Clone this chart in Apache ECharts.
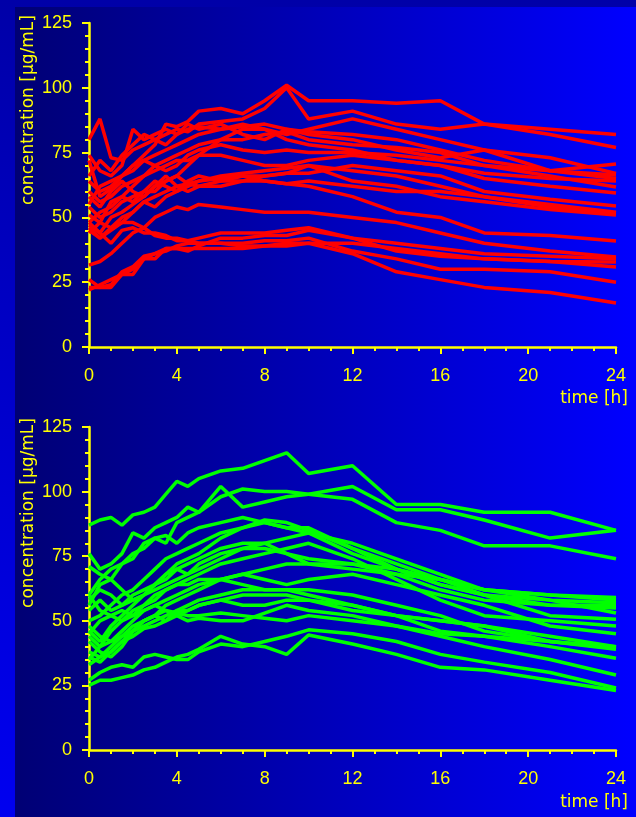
<!DOCTYPE html>
<html>
<head>
<meta charset="utf-8">
<script src="https://cdn.jsdelivr.net/npm/echarts@6/dist/echarts.min.js"></script>
<style>
html,body{margin:0;padding:0;background:#0000c0;}
#chart{width:636px;height:817px;}
</style>
</head>
<body>
<div id="chart"></div>
<script>
// sampling times [h]
const times = [0,0.5,1,1.5,2,2.5,3,3.5,4,4.5,5,6,7,8,9,10,12,14,16,18,21,24];
const xTicks = [0,4,8,12,16,20,24];
const yTicks = [0,25,50,75,100,125];

// upper panel: concentration [µg/mL] per subject (red)
const redCurves = [
  [72,58,61,66,70,74,78,86,85,87,91,92,90,95,101,95,95,94,95,86,84,82],
  [80,88,73,72,76,78,80,82,84,83,86,87,88,92,100,88,91,86,84,86,82,77],
  [74,68,66,70,84,80,82,84,82,84,85,84,86,84,82,84,88,84,80,76,68,70.6],
  [66,72,68,74,78,82,80,78,82,86,84,86,82,80,84,82,80,76,73,76,73,67],
  [64,60,62,66,68,72,74,76,78,80,82,84,85,86,84,83,82,80,76,72,68,66.4],
  [60,56,58,62,64,66,70,72,74,76,78,80,80,82,83,80,78,77,75,70,68,65],
  [58,54,60,64,60,58,62,64,66,70,74,80,84,84,80,78,76,72,70,67,65,64],
  [55,62,64,66,70,72,70,68,70,74,76,78,76,75,76,75,75,74,72,70,66,61.7],
  [51,48,56,58,62,66,68,70,72,72,74,74,72,70,70,72,74,72,70,65,62,59.4],
  [47,44,50,52,55,58,62,66,62,60,62,64,66,66,67,67,70,68,66,60,57,54.4],
  [54,50,52,56,58,60,64,62,60,64,66,64,64,64,63,64,62,60,60,58,55,52],
  [48,52,54,58,56,60,60,64,66,63,62,62,64,66,67,70,68,66,62,58,54,51.7],
  [45,42,46,50,52,56,54,58,60,62,64,66,67,68,69,70,64,62,58,56,53,50.9],
  [46,42,45,48,52,56,58,60,62,63,64,65,66,64,63,62,58,52,50,44,43,40.9],
  [44,48,46,48,48,46,50,52,54,53,55,54,53,52,52,52,50,48,44,40,37,34.7],
  [31.6,33,36,40,44,46,43,42,42,41,42,44,44,44,45,46,42,40,38,36,35,34],
  [48,44,40,45,46,44,44,43,41,41,40,40,39,39,40,40,40,38,36,34,33,32.8],
  [26,23,23,28,30,34,34,38,38,37,39,42,42,43,43,45,42,37,35,34,33,30.9],
  [22,24,26,28,28,34,36,38,38,38,38,38,38,39,39,40,36,29,26,23,21,17],
  [23,23,24,29,31,35,36,37,39,40,40,40,40,41,41,42,37,34,30,30,29,25]
];

// lower panel: concentration [µg/mL] per subject (green)
const greenCurves = [
  [87,89,90,87,91,92,94,99,104,102,105,108,109,112,115,107,110,95,95,92,92,85],
  [60,66,70,72,74,80,82,80,88,90,92,102,94,96,98,99,102,93,93,89,82,85],
  [76,70,72,76,84,82,86,88,90,94,92,98,101,100,100,99,97,88,85,79,79,74],
  [56,64,66,72,76,78,82,83,80,84,86,88,90,88,86,84,80,74,68,62,60,59],
  [50,52,56,60,62,66,70,74,76,78,80,84,86,89,88,85,78,72,66,62,60,58],
  [46,42,48,52,56,60,64,68,72,74,76,82,86,88,86,86,78,70,64,60,58,57],
  [54,58,54,56,60,62,64,66,70,72,74,78,80,80,82,84,76,70,64,60,56,55],
  [71,68,66,62,58,60,62,64,66,68,70,74,78,78,76,72,70,68,66,62,58,53],
  [44,40,46,50,54,56,58,62,64,66,68,72,74,76,78,80,74,66,58,52,50,48],
  [42,38,36,40,46,50,52,56,58,60,62,66,68,70,72,72,72,70,66,60,52,50.6],
  [48,44,42,46,50,54,56,58,60,62,64,66,68,66,64,66,68,64,60,56,48,45],
  [38,36,40,44,48,50,52,50,54,56,58,60,62,62,62,60,56,52,50,48,44,40],
  [60,54,52,50,52,56,60,62,64,64,66,66,64,62,62,62,60,56,52,46,42,39],
  [35,40,42,44,46,48,50,52,54,54,56,58,56,56,58,58,56,52,50,48,42,39.5],
  [33,36,38,42,46,50,52,54,52,54,56,58,60,60,60,58,54,52,46,44,40,35.5],
  [45,50,52,54,52,54,56,54,53,52,52,53,52,51,50,52,50,48,44,40,35,29],
  [25,27,27,28,29,31,32,34,36,37,39,44,41,40,37,44.5,41,37,32,31,27,23],
  [27,30,32,33,32,36,37,36,35,35,38,41,40,42,44,46.5,45,42,37,34,30,24],
  [36,34,38,42,44,47,48,50,52,50,51,50,50,53,56,54,52,48,45,44,42,40],
  [58,62,60,56,58,60,64,68,70,68,72,76,78,80,76,74,72,68,62,58,56,56]
];

const YEL = '#ffff00';
const LABEL_FONT = 'Liberation Sans';
const NAME_FONT = '"DejaVu Sans"';

function xAxisCfg(gi){
  return {
    type:'value', gridIndex:gi, min:xTicks[0], max:xTicks[xTicks.length-1], interval:4,
    axisLine:{show:true,onZero:false,lineStyle:{color:YEL,width:2.5}},
    axisTick:{show:true,length:7,lineStyle:{color:YEL,width:2}},
    minorTick:{show:true,splitNumber:4,length:4,lineStyle:{color:YEL,width:2}},
    splitLine:{show:false}, minorSplitLine:{show:false},
    axisLabel:{color:YEL,fontSize:18,fontFamily:LABEL_FONT,margin:20}
  };
}
function yAxisCfg(gi){
  return {
    type:'value', gridIndex:gi, min:yTicks[0], max:yTicks[yTicks.length-1], interval:25,
    axisLine:{show:true,lineStyle:{color:YEL,width:2.5}},
    axisTick:{show:true,length:7,lineStyle:{color:YEL,width:2}},
    minorTick:{show:true,splitNumber:5,length:4,lineStyle:{color:YEL,width:2}},
    splitLine:{show:false}, minorSplitLine:{show:false},
    axisLabel:{color:YEL,fontSize:18,fontFamily:LABEL_FONT,margin:17}
  };
}

const series = [];
redCurves.forEach((c,k)=>{
  series.push({type:'line',xAxisIndex:0,yAxisIndex:0,showSymbol:false,symbol:'none',
    data:times.map((t,i)=>[t,c[i]]),lineStyle:{color:'#ff0000',width:3.5},itemStyle:{color:'#ff0000'},
    silent:true,animation:false,z:3});
});
greenCurves.forEach((c,k)=>{
  series.push({type:'line',xAxisIndex:1,yAxisIndex:1,showSymbol:false,symbol:'none',
    data:times.map((t,i)=>[t,c[i]]),lineStyle:{color:'#00ff00',width:3.5},itemStyle:{color:'#00ff00'},
    silent:true,animation:false,z:3});
});

const chart = echarts.init(document.getElementById('chart'), null, {renderer:'canvas'});
chart.setOption({
  animation:false,
  backgroundColor:'#0000c0',
  graphic:[
    {type:'rect',z:-100,silent:true,shape:{x:0,y:0,width:636,height:817},
     style:{fill:new echarts.graphic.LinearGradient(0,0,0,1,[{offset:0,color:'#0000a8'},{offset:1,color:'#0000f0'}])}},
    {type:'rect',z:-99,silent:true,shape:{x:15,y:7,width:621,height:810},
     style:{fill:new echarts.graphic.LinearGradient(0,0,1,0,[{offset:0,color:'#000074'},{offset:1,color:'#0000ff'}])}},
    {type:'text',z:10,silent:true,x:29,y:110,rotation:Math.PI/2,
     style:{text:'concentration [µg/mL]',fill:YEL,font:'17px '+NAME_FONT,align:'center',verticalAlign:'middle'}},
    {type:'text',z:10,silent:true,x:29,y:513,rotation:Math.PI/2,
     style:{text:'concentration [µg/mL]',fill:YEL,font:'17px '+NAME_FONT,align:'center',verticalAlign:'middle'}},
    {type:'text',z:10,silent:true,x:628,y:399,
     style:{text:'time [h]',fill:YEL,font:'17px '+NAME_FONT,align:'right',verticalAlign:'middle'}},
    {type:'text',z:10,silent:true,x:628,y:803,
     style:{text:'time [h]',fill:YEL,font:'17px '+NAME_FONT,align:'right',verticalAlign:'middle'}}
  ],
  grid:[
    {left:89,top:23,width:527,height:324},
    {left:89,top:427,width:527,height:323}
  ],
  xAxis:[xAxisCfg(0),xAxisCfg(1)],
  yAxis:[yAxisCfg(0),yAxisCfg(1)],
  series:series
});
</script>
</body>
</html>
